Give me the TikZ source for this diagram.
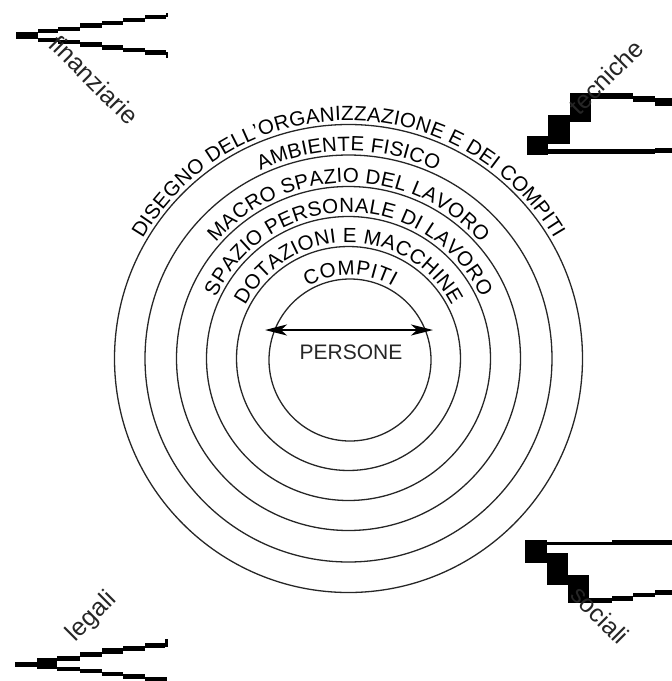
\documentclass[tikz,border=0pt]{standalone}
\usepackage{fontspec}
\setmainfont{Liberation Sans}
\usetikzlibrary{decorations.text,arrows.meta,calc}
\newcommand\lblfont{\fontsize{20.5}{20.5}\selectfont}
\newcommand\cornerfont{\fontsize{25}{25}\selectfont}
\newcommand\ringtext[2]{%
  \path[decorate,decoration={text along path,text align=center,raise=4pt,
    text={|\lblfont|#2}}]
    ($(c)+(-#1,0)$) arc[start angle=180,end angle=360,radius=#1];}
\begin{document}
\begin{tikzpicture}[x=1pt,y=-1pt,
  ring/.style={line width=1.3pt,draw=black!85},
  corner/.style={font=\cornerfont,text=black!85,inner sep=0pt},
  jag/.style={fill=black}]
\useasboundingbox (0,0) rectangle (672,681);
\coordinate (c) at (348.5,358.5);
\coordinate (ci) at (350,360);
% top-left fork
\foreach \a/\b/\cc/\d in {16/32/38/39,
  38/29.3/58/33.3, 58/26.7/80/31, 80/23.3/102/27.7, 102/20.7/123/25.3, 123/18/145/22, 145/15/166/19, 165.5/13/168/17,
  38/37.7/58/41.7, 58/40/80/44.3, 80/42.3/102/46.7, 102/45/123/50, 123/47.7/145/52.3, 145/50/166/55, 165.5/52/168/58}
  \fill[jag] (\a,\b) rectangle (\cc,\d);
% bottom-left fork
\foreach \a/\b/\cc/\d in {15/661.7/37/667.3, 37/658/57/669,
  57/655.7/80/660.7, 80/651.7/102/657.3, 102/648/123/654, 123/646/145/650.7, 145/643/165/648, 165/639/167.5/647,
  57/666.7/80/670.7, 80/669/102/673.3, 102/671.7/123/676, 123/674/145/678.7, 145/676.7/167/681}
  \fill[jag] (\a,\b) rectangle (\cc,\d);
% top-right steps
\foreach \a/\b/\cc/\d in {526.7/136/548.3/155, 548.3/115/570/144, 570/93.3/590.7/122.3,
  590.7/93.3/633.3/99.3, 633.3/96/655/101.7, 655/98.3/672/106,
  548.3/149.3/655/154, 655/148.3/672/153.3}
  \fill[jag] (\a,\b) rectangle (\cc,\d);
% bottom-right steps
\foreach \a/\b/\cc/\d in {525/540/546.7/563.3, 546.7/553.3/568.3/585, 568.3/575/589.3/603.3,
  546.7/541.7/611.7/545, 611.7/540/672/545,
  589.3/598.3/611.7/603.3, 611.7/596/633.3/601, 633.3/592.7/655/597.3, 655/590/672/595}
  \fill[jag] (\a,\b) rectangle (\cc,\d);
% rings
\draw[ring] (ci) circle[radius=81];
\foreach \r in {112,142,172,203.5,234} \draw[ring] (c) circle[radius=\r];
% ring labels
\path[decorate,decoration={text along path,text align=center,raise=4pt,text={|\lblfont|COMPITI}}]
  ($(ci)+(-81,0)$) arc[start angle=180,end angle=360,radius=81];
\ringtext{112}{DOTAZIONI E MACCHINE}
\ringtext{142}{SPAZIO PERSONALE DI LAVORO}
\ringtext{172}{MACRO SPAZIO DEL LAVORO}
\ringtext{203.5}{AMBIENTE FISICO}
\ringtext{234}{DISEGNO DELL'ORGANIZZAZIONE E DEI COMPITI}
% persone
\coordinate (al) at (265,330);
\coordinate (ar) at (433,330);
\draw[line width=2pt,{Stealth[length=22pt,width=11pt,inset=6pt]}-{Stealth[length=22pt,width=11pt,inset=6pt]}] (al) -- (ar);
\node[font=\fontsize{21}{21}\selectfont,text=black!85,inner sep=0pt] (persone) at (351,352) {PERSONE};
% corner labels
\node[corner,rotate=-45] (fin) at (94,80) {finanziarie};
\node[corner,rotate=45] (tec) at (606,77) {tecniche};
\node[corner,rotate=45] (leg) at (92,617) {legali};
\node[corner,rotate=-45] (soc) at (600,615) {sociali};
\end{tikzpicture}
\end{document}
